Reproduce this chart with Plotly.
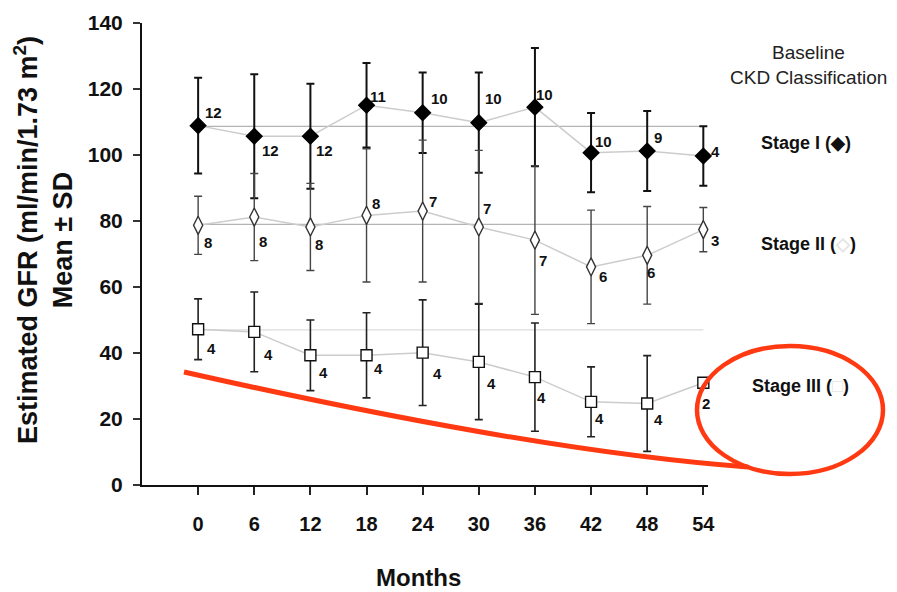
import plotly.graph_objects as go

months = [0, 6, 12, 18, 24, 30, 36, 42, 48, 54]
tick_labels = ["0", "6", "12", "18", "24", "30", "36", "42", "48", "54"]

stage1_mean = [108.9, 105.7, 105.7, 115.1, 112.8, 109.8, 114.5, 100.7, 101.2, 99.7]
stage1_sd = [14.5, 18.8, 15.9, 12.8, 12.2, 15.2, 17.9, 12.0, 12.1, 9.0]
stage1_n = [12, 12, 12, 11, 10, 10, 10, 10, 9, 4]
stage1_baseline = 108.7

stage2_mean = [78.7, 81.2, 78.2, 81.7, 83.0, 78.2, 74.2, 66.1, 69.6, 77.4]
stage2_sd = [8.8, 13.2, 13.2, 20.2, 21.5, 23.2, 22.5, 17.2, 14.8, 6.7]
stage2_n = [8, 8, 8, 8, 7, 7, 7, 6, 6, 3]
stage2_baseline = 79.0

stage3_mean = [47.2, 46.4, 39.3, 39.3, 40.1, 37.3, 32.7, 25.2, 24.7, 31.0]
stage3_sd = [9.2, 12.1, 10.7, 12.9, 16.0, 17.5, 16.4, 10.6, 14.5, None]
stage3_n = [4, 4, 4, 4, 4, 4, 4, 4, 4, 2]
stage3_baseline = 47.0

y_ticks = [0, 20, 40, 60, 80, 100, 120, 140]

# label offsets (pixels, dx right, dy down) -- styling only
off1 = [(15, -13), (16, 14), (14, 14), (11, -9), (17, -14), (15, -24), (10, -13), (12, -11), (11, -14), (12, -4)]
off2 = [(10, 17), (9, 24), (9, 18), (9, -12), (10, -10), (8, -18), (8, 20), (12, 10), (4, 17), (12, 11)]
off3 = [(13, 19), (14, 23), (13, 17), (12, 13), (15, 21), (13, 22), (7, 20), (8, 17), (11, 16), (3, 21)]

FONT = "Liberation Sans, Arial, sans-serif"
fig = go.Figure()

# baseline reference lines
for base, col in [(stage1_baseline, "#b4b4b4"), (stage2_baseline, "#b4b4b4"), (stage3_baseline, "#dcdcdc")]:
    fig.add_trace(go.Scatter(x=[months[0], months[-1]], y=[base, base], mode="lines",
                             line=dict(color=col, width=1.3), hoverinfo="skip", showlegend=False))

def add_series(mean, sd, sym, size, fill, lcol, ecol, ew):
    fig.add_trace(go.Scatter(
        x=months, y=mean, mode="lines+markers",
        line=dict(color="#cccccc", width=1.5),
        marker=dict(symbol=sym, size=size, color=fill, line=dict(color=lcol, width=1.4)),
        error_y=dict(type="data", array=sd, visible=True, color=ecol, thickness=ew, width=4),
        cliponaxis=False, showlegend=False))

add_series(stage1_mean, stage1_sd, "diamond", 12, "black", "black", "#111111", 2)
add_series(stage2_mean, stage2_sd, "diamond-tall", 13, "white", "#333333", "#444444", 1.4)
add_series(stage3_mean, stage3_sd, "square", 11, "white", "#111111", "#222222", 1.6)

anns = []
for mean, ns, offs in [(stage1_mean, stage1_n, off1), (stage2_mean, stage2_n, off2), (stage3_mean, stage3_n, off3)]:
    for xm, ym, n, (dx, dy) in zip(months, mean, ns, offs):
        anns.append(dict(x=xm, y=ym, xref="x", yref="y", text=str(n), showarrow=False,
                         xshift=dx, yshift=-dy, font=dict(family=FONT, size=15, color="#111111", weight="bold")))

def txt(x, y, text, size, bold=False, color="#111111", **kw):
    d = dict(x=x, y=y, xref="paper", yref="paper", text=text, showarrow=False,
             xanchor="center", yanchor="middle",
             font=dict(family=FONT, size=size, color=color, weight="bold" if bold else "normal"))
    d.update(kw)
    return d

# right-side legend text
anns += [
    txt(1.177, 0.937, "Baseline", 19, color="#222222"),
    txt(1.177, 0.881, "CKD Classification", 19, color="#222222"),
    txt(1.173, 0.740, "Stage I (◆)", 18, bold=True),
    txt(1.177, 0.5216, "Stage II (<span style='color:#e4e4e4'>◇</span>)", 18, bold=True),
    txt(1.163, 0.2143, "Stage III (<span style='color:#e4e4e4'>□</span>)", 18, bold=True),
    txt(-0.175, 0.53, "Estimated GFR (ml/min/1.73 m<sup>2</sup>)<br>Mean ± SD", 27, bold=True, textangle=-90),
    txt(0.488, -0.201, "Months", 24, bold=True),
]

# red hand-drawn annotation (paper coords)
def px(xp):
    return (xp - 142) / 566
def py(yp):
    return (485 - yp) / 462

shapes = [
    dict(type="path", xref="paper", yref="paper",
         path=f"M {px(184)},{py(372)} Q {px(540)},{py(452)} {px(748)},{py(467)}",
         line=dict(color="#ff3a12", width=5)),
    dict(type="circle", xref="paper", yref="paper",
         x0=px(697), x1=px(883), y0=py(474), y1=py(346),
         line=dict(color="#ff3a12", width=4.5)),
]

# page body has an 8px default margin: compensate so the plot lands where intended
fig.update_layout(
    width=889, height=584,
    margin=dict(l=134, r=189, t=15, b=107, autoexpand=False),
    paper_bgcolor="white", plot_bgcolor="white",
    annotations=anns, shapes=shapes,
    xaxis=dict(range=[-6, 54.5], tickvals=months, ticktext=tick_labels, automargin=False,
               showgrid=False, zeroline=False, showline=True, linecolor="#111111", linewidth=2,
               ticks="outside", ticklen=8, tickwidth=2, tickcolor="#222222",
               ticklabelstandoff=12,
               tickfont=dict(family=FONT, size=20, color="#111111", weight="bold")),
    yaxis=dict(range=[0, 140], tickvals=y_ticks, automargin=False,
               showgrid=False, zeroline=False, showline=True, linecolor="#111111", linewidth=2,
               ticks="outside", ticklen=7, tickwidth=1.5, tickcolor="#333333",
               ticklabelstandoff=6,
               tickfont=dict(family=FONT, size=21, color="#111111", weight="bold")),
)

fig.write_html("out.html")
